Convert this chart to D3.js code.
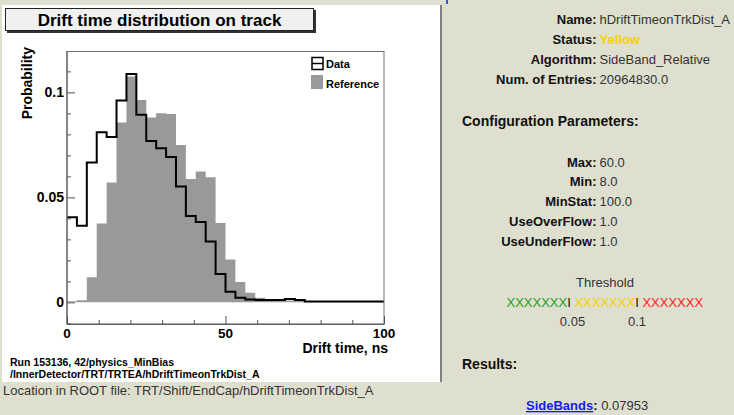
<!DOCTYPE html>
<html>
<head>
<meta charset="utf-8">
<script src="https://cdn.jsdelivr.net/npm/d3@7"></script>
<style>
  html, body { margin: 0; padding: 0; background: #dfdfd0; }
  svg { display: block; }
  text { font-family: "Liberation Sans", Arial, Helvetica, sans-serif; }
</style>
</head>
<body>
<svg id="page" width="734" height="415"></svg>
<script>
// Histogram binning: 32 bins over 0..100 ns
const binEdges0 = 0, binEdges1 = 100, nBins = 32;

// Normalised drift-time distributions (probability per bin)
const dataValues = [0.0405, 0.0365, 0.0666, 0.0810, 0.0787, 0.0961, 0.1088, 0.0893,
                    0.0768, 0.0734, 0.0692, 0.0552, 0.0411, 0.0383, 0.0290, 0.0135,
                    0.0050, 0.0022, 0.0014, 0.0011, 0.0011, 0.0011, 0.0016, 0.0011,
                    0.0004, 0.0004, 0.0004, 0.0004, 0.0004, 0.0004, 0.0004, 0.0004];
const refValues  = [0.0005, 0.0010, 0.0120, 0.0375, 0.0571, 0.0857, 0.1075, 0.0964,
                    0.0880, 0.0900, 0.0897, 0.0749, 0.0588, 0.0623, 0.0596, 0.0378,
                    0.0204, 0.0097, 0.0046, 0.0022, 0.0013, 0.0011, 0.0009, 0.0007,
                    0.0004, 0.0003, 0.0003, 0.0002, 0.0002, 0.0002, 0.0002, 0.0002];

const xMajorTicks = [0, 50, 100];
const xMinorTicks = [10, 20, 30, 40, 60, 70, 80, 90];
const yMajorTicks = [0, 0.05, 0.1];
const yMinorTicks = [-0.01, 0.01, 0.02, 0.03, 0.04, 0.06, 0.07, 0.08, 0.09, 0.11];
const yTickLabels = ["0", "0.05", "0.1"];

const legendLabels = ["Data", "Reference"];

const infoRows = [
  ["Name:", "hDriftTimeonTrkDist_A"],
  ["Status:", "Yellow"],
  ["Algorithm:", "SideBand_Relative"],
  ["Num. of Entries:", "20964830.0"]
];
const configRows = [
  ["Max:", "60.0"],
  ["Min:", "8.0"],
  ["MinStat:", "100.0"],
  ["UseOverFlow:", "1.0"],
  ["UseUnderFlow:", "1.0"]
];
const thresholdValues = ["0.05", "0.1"];
const resultName = "SideBands";
const resultValue = "0.07953";

const svg = d3.select("#page");

// ---------- white canvas panel ----------
svg.append("rect").attr("x", 2).attr("y", 5).attr("width", 438).attr("height", 377).attr("fill", "#ffffff");
svg.append("line").attr("x1", 441).attr("x2", 441).attr("y1", 5).attr("y2", 382)
  .attr("stroke", "#808080").attr("stroke-width", 2);
svg.append("rect").attr("x", 446).attr("y", 0).attr("width", 2).attr("height", 4).attr("fill", "#3355ee");

// ---------- title box ----------
const tb = svg.append("g");
tb.append("rect").attr("x", 7).attr("y", 10).attr("width", 309).attr("height", 23).attr("fill", "#333");
tb.append("rect").attr("x", 5.5).attr("y", 8.5).attr("width", 308).attr("height", 22)
  .attr("fill", "#f0f0f0").attr("stroke", "#222").attr("stroke-width", 1);
tb.append("text").attr("x", 159.5).attr("y", 26).attr("text-anchor", "middle")
  .attr("font-size", "17px").attr("font-weight", "bold").attr("fill", "#000")
  .text("Drift time distribution on track");

// ---------- plot frame & scales ----------
const frame = {left: 67, right: 384, top: 51, bottom: 324};
const x = d3.scaleLinear().domain([binEdges0, binEdges1]).range([frame.left, frame.right]);
const y = d3.scaleLinear().domain([-0.0103, 0.1197]).range([frame.bottom, frame.top]);
const binW = (binEdges1 - binEdges0) / nBins;

const plot = svg.append("g");

// Reference histogram (filled)
const refPts = refValues.map((v, i) => [binEdges0 + i * binW, v]);
refPts.push([binEdges1, refValues[refValues.length - 1]]);
plot.append("path")
  .datum(refPts)
  .attr("fill", "#999999")
  .attr("d", d3.area().x(d => x(d[0])).y0(y(0)).y1(d => y(d[1])).curve(d3.curveStepAfter));

// Data histogram (outline)
const dataPts = dataValues.map((v, i) => [binEdges0 + i * binW, v]);
dataPts.push([binEdges1, dataValues[dataValues.length - 1]]);
plot.append("path")
  .datum(dataPts)
  .attr("fill", "none").attr("stroke", "#000").attr("stroke-width", 2)
  .attr("d", d3.line().x(d => x(d[0])).y(d => y(d[1])).curve(d3.curveStepAfter));

// Frame
plot.append("rect")
  .attr("x", frame.left).attr("y", frame.top + 0.5)
  .attr("width", frame.right - frame.left).attr("height", frame.bottom - frame.top)
  .attr("fill", "none").attr("stroke", "#707070").attr("stroke-width", 1);

// Y axis (ticks pointing inward)
const yAxisMajor = d3.axisRight(y).tickValues(yMajorTicks).tickSize(8).tickFormat("");
const yAxisMinor = d3.axisRight(y).tickValues(yMinorTicks).tickSize(4).tickFormat("");
[yAxisMajor, yAxisMinor].forEach(ax => {
  const g = plot.append("g").attr("transform", `translate(${frame.left},0)`).call(ax);
  g.select(".domain").remove();
  g.selectAll("line").attr("stroke", "#555");
});
plot.append("line").attr("x1", frame.left).attr("x2", frame.left)
  .attr("y1", frame.top).attr("y2", frame.bottom).attr("stroke", "#555");
plot.selectAll(".ylab").data(yMajorTicks).enter().append("text")
  .attr("x", 64).attr("y", d => y(d) + 5)
  .attr("text-anchor", "end").attr("font-size", "14px").attr("font-weight", "bold")
  .text((d, i) => yTickLabels[i]);

// X axis (ticks pointing up)
const xAxisMajor = d3.axisTop(x).tickValues(xMajorTicks).tickSize(8).tickFormat("");
const xAxisMinor = d3.axisTop(x).tickValues(xMinorTicks).tickSize(4).tickFormat("");
[xAxisMajor, xAxisMinor].forEach(ax => {
  const g = plot.append("g").attr("transform", `translate(0,${frame.bottom})`).call(ax);
  g.select(".domain").remove();
  g.selectAll("line").attr("stroke", "#555");
});
plot.append("line").attr("x1", frame.left).attr("x2", frame.right)
  .attr("y1", frame.bottom).attr("y2", frame.bottom).attr("stroke", "#555");
plot.selectAll(".xlab").data(xMajorTicks).enter().append("text")
  .attr("x", d => x(d)).attr("y", 337.5)
  .attr("text-anchor", "middle").attr("font-size", "13.5px").attr("font-weight", "bold")
  .text(d => d);

// Axis titles
plot.append("text").attr("x", 388).attr("y", 353).attr("text-anchor", "end")
  .attr("font-size", "14px").attr("font-weight", "bold").text("Drift time, ns");
plot.append("text").attr("transform", "translate(32,47) rotate(-90)")
  .attr("text-anchor", "end").attr("font-size", "14px").attr("font-weight", "bold")
  .text("Probability");

// Legend
const leg = plot.append("g");
leg.append("rect").attr("x", 312).attr("y", 57.5).attr("width", 11).attr("height", 12)
  .attr("fill", "#fff").attr("stroke", "#000").attr("stroke-width", 1.5);
leg.append("line").attr("x1", 312).attr("x2", 323).attr("y1", 63.5).attr("y2", 63.5)
  .attr("stroke", "#000").attr("stroke-width", 1.5);
leg.append("rect").attr("x", 311).attr("y", 75).attr("width", 12).attr("height", 14).attr("fill", "#999999");
leg.selectAll(".lt").data(legendLabels).enter().append("text")
  .attr("x", 326).attr("y", (d, i) => 68 + i * 19.5)
  .attr("font-size", "11px").attr("font-weight", "bold").text(d => d);

// Run info
svg.append("text").attr("x", 10).attr("y", 366).attr("font-size", "10.5px").attr("font-weight", "bold")
  .text("Run 153136, 42/physics_MinBias");
svg.append("text").attr("x", 10).attr("y", 378).attr("font-size", "10.5px").attr("font-weight", "bold")
  .text("/InnerDetector/TRT/TRTEA/hDriftTimeonTrkDist_A");

svg.append("text").attr("x", 3).attr("y", 395).attr("font-size", "13px").attr("fill", "#333")
  .text("Location in ROOT file: TRT/Shift/EndCap/hDriftTimeonTrkDist_A");

// ---------- info panel ----------
const info = svg.append("g");
const labelX = 596.5, valueX = 599.5;
function rows(data, y0, dy) {
  data.forEach((r, i) => {
    info.append("text").attr("x", labelX).attr("y", y0 + i * dy).attr("text-anchor", "end")
      .attr("font-size", "13px").attr("font-weight", "bold").attr("fill", "#111").text(r[0]);
    const v = info.append("text").attr("x", valueX).attr("y", y0 + i * dy)
      .attr("font-size", "13px").attr("fill", "#333").text(r[1]);
    if (r[1] === "Yellow") v.attr("fill", "#f7d000").attr("font-weight", "bold");
  });
}
rows(infoRows, 24, 20);
info.append("text").attr("x", 462).attr("y", 126).attr("font-size", "14px").attr("font-weight", "bold")
  .attr("fill", "#111").text("Configuration Parameters:");
rows(configRows, 166.5, 19.8);

// Threshold bar
info.append("text").attr("x", 605).attr("y", 287).attr("text-anchor", "middle")
  .attr("font-size", "13px").attr("fill", "#333").text("Threshold");
const thr = info.append("text").attr("x", 506.5).attr("y", 306.5).attr("font-size", "13px");
thr.append("tspan").attr("fill", "#22a022").text("XXXXXXX");
thr.append("tspan").attr("fill", "#111").text("I ");
thr.append("tspan").attr("fill", "#f5d000").text("XXXXXXX");
thr.append("tspan").attr("fill", "#111").text("I ");
thr.append("tspan").attr("fill", "#ff2020").text("XXXXXXX");
info.selectAll(".thv").data(thresholdValues).enter().append("text")
  .attr("x", (d, i) => [572.5, 637][i]).attr("y", 325.5).attr("text-anchor", "middle")
  .attr("font-size", "13px").attr("fill", "#333").text(d => d);

// Results
info.append("text").attr("x", 462).attr("y", 369).attr("font-size", "14px").attr("font-weight", "bold")
  .attr("fill", "#111").text("Results:");
const res = info.append("text").attr("x", 526).attr("y", 410).attr("font-size", "13px");
res.append("tspan").attr("fill", "#1a1aee").attr("font-weight", "bold")
  .attr("text-decoration", "underline").text(resultName);
res.append("tspan").attr("fill", "#111").attr("font-weight", "bold").text(":");
res.append("tspan").attr("fill", "#333").text(" " + resultValue);
</script>
</body>
</html>
